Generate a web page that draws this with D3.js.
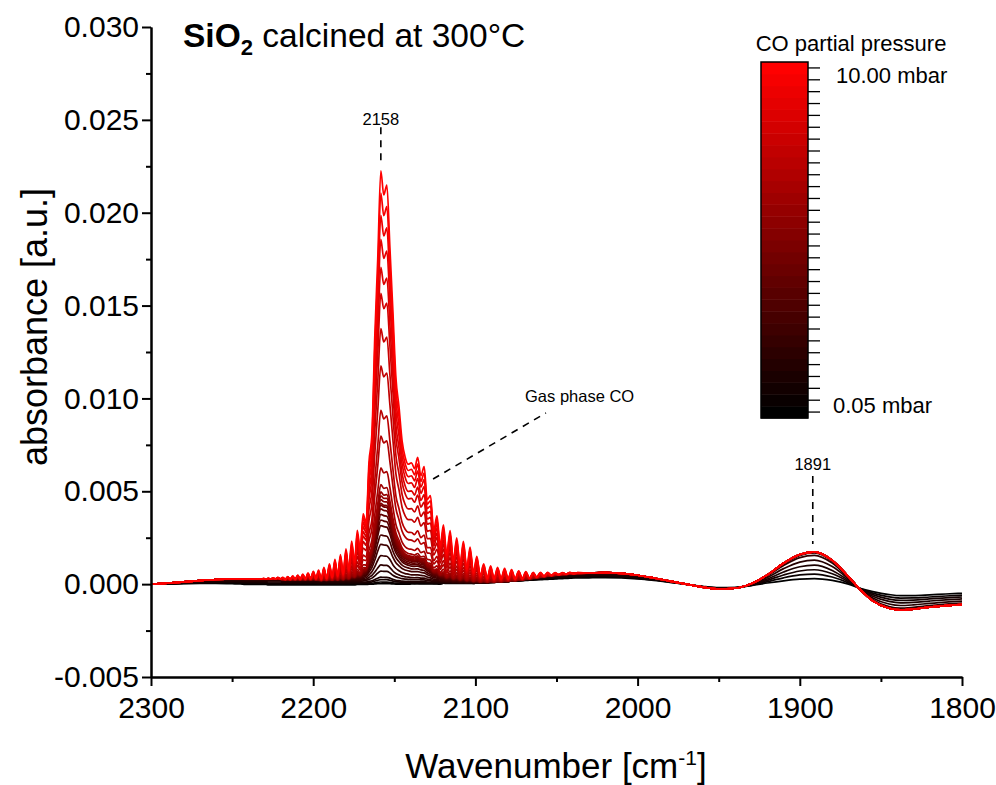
<!DOCTYPE html>
<html><head><meta charset="utf-8">
<script src="https://cdn.jsdelivr.net/npm/d3@7"></script>
<style>
body{margin:0;background:#fff;}
svg{display:block;font-family:"Liberation Sans",Arial,Helvetica,sans-serif;}
</style></head><body>
<svg id="chart" width="996" height="785"></svg>
<script>
// ---------------- DATA ----------------
// Wavenumber grid [cm-1], split by region (gas-phase lines: peak / valley points)
const wnHead = [2300, 2290, 2280, 2270, 2260, 2250, 2245];
const wnR = [2241.8, 2240.4, 2239.0, 2237.6, 2236.3, 2234.8, 2233.4, 2232.0, 2230.6, 2229.1,
  2227.7, 2226.2, 2224.7, 2223.3, 2221.8, 2220.3, 2218.8, 2217.2, 2215.7, 2214.2,
  2212.6, 2211.1, 2209.5, 2208.0, 2206.4, 2204.8, 2203.2, 2201.6, 2199.9, 2198.3,
  2196.7, 2195.0, 2193.4, 2191.7, 2190.0, 2188.3, 2186.6, 2184.9, 2183.2, 2181.5,
  2179.8, 2178.0, 2176.3, 2174.5, 2172.8, 2171.0, 2169.2, 2167.4, 2165.6, 2163.8,
  2162.0, 2160.2, 2158.3, 2156.5, 2154.6, 2152.7, 2150.9, 2149.0, 2147.1, 2145.2,
  2143.3, 2141.4];
const wnP = [2139.4, 2137.5, 2135.6, 2133.6, 2131.6, 2129.7, 2127.7, 2125.7, 2123.7, 2121.7,
  2119.7, 2117.7, 2115.6, 2113.6, 2111.5, 2109.5, 2107.4, 2105.3, 2103.3, 2101.2,
  2099.1, 2097.0, 2094.9, 2092.7, 2090.6, 2088.5, 2086.3, 2084.2, 2082.0, 2079.8,
  2077.7, 2075.5, 2073.3, 2071.1, 2068.9, 2066.6, 2064.4, 2062.2, 2059.9, 2057.7,
  2055.4, 2053.1, 2050.9, 2048.6, 2046.3, 2044.0, 2041.7, 2039.4, 2037.0];
const wnTail = [2030, 2020, 2010, 2000, 1990, 1980, 1970, 1960, 1950, 1940, 1930, 1920, 1910,
  1900, 1891, 1880, 1870, 1863, 1855, 1845, 1838, 1830, 1820, 1810, 1800];

// Gas-phase CO rotational lines at 10 mbar (absorbance, units of 1e-5)
const gasHead = [0, 0, 0, 0, 0, 0, 0];
const gasR = [0, 0, 0, 0, 1, 0, 2, 0, 3, 0,
  4, 1, 6, 1, 9, 1, 12, 2, 16, 2,
  20, 3, 25, 3, 30, 4, 37, 5, 45, 6,
  55, 7, 68, 9, 85, 11, 105, 14, 125, 16,
  145, 18, 155, 19, 160, 20, 165, 20, 160, 19,
  150, 17, 135, 15, 110, 12, 80, 8, 40, 4,
  0, 4];
const gasP = [40, 8, 80, 12, 110, 15, 135, 17, 150, 19,
  160, 20, 165, 20, 160, 20, 155, 18, 145, 16,
  110, 12, 85, 10, 78, 9, 70, 8, 64, 7,
  56, 6, 48, 5, 40, 4, 33, 4, 26, 3,
  20, 2, 15, 2, 11, 1, 8, 1, 5];
const gasTail = [0, 0, 0, 0, 0, 0, 0, 0, 0, 0, 0, 0, 0, 0, 0, 0, 0, 0, 0, 0, 0, 0, 0, 0, 0];

// Adsorbed CO band (2158) with physisorbed shoulder, normalised (units of 1e-3)
const adsHead = [0, 0, 0, 0, 0, 0, 0];
const adsR = [0, 0, 0, 0, 0, 0, 0, 0, 0, 0,
  0, 0, 0, 0, 0, 0, 0, 0, 0, 0,
  0, 0, 0, 0, 0, 0, 0, 0, 0, 0,
  0, 0, 1, 1, 2, 3, 4, 5, 7, 9,
  12, 18, 27, 38, 54, 70, 94, 140, 230, 370,
  560, 820, 990, 985, 965, 850, 660, 520, 430, 360,
  320, 300];
const adsP = [288, 288, 283, 268, 245, 205, 158, 125, 99, 85,
  73, 64, 56, 48, 40, 36, 33, 28, 23, 19,
  16, 12, 8, 7, 6, 5, 5, 4, 4, 3,
  3, 2, 2, 1, 1, 0, 0, 0, 0, 0,
  0, 0, 0, 0, 0, 0, 0, 0, 0];
const adsTail = [0, 0, 0, 0, 0, 0, 0, 0, 0, 0, 0, 0, 0, 0, 0, 0, 0, 0, 0, 0, 0, 0, 0, 0, 0];

// Broad background at 10 mbar (units of 1e-5)
const bgHighHead = [0, 5, 12, 19, 25, 28, 28];
const bgHighR = [27, 27, 27, 27, 27, 27, 27, 27, 27, 27,
  27, 27, 27, 27, 27, 27, 24, 24, 24, 24,
  24, 24, 24, 24, 24, 24, 24, 24, 24, 24,
  20, 20, 20, 20, 20, 20, 20, 20, 20, 20,
  20, 20, 20, 20, 16, 16, 16, 16, 16, 16,
  16, 16, 16, 16, 16, 16, 13, 13, 13, 13,
  13, 13];
const bgHighP = [10, 10, 10, 10, 10, 10, 10, 10, 10, 10,
  6, 6, 6, 6, 6, 6, 6, 6, 6, 6,
  6, 6, 7, 7, 8, 9, 10, 11, 12, 14,
  16, 18, 20, 22, 25, 28, 31, 34, 37, 40,
  43, 45, 47, 49, 51, 53, 55, 56, 57];
const bgHighTail = [60, 62, 58, 48, 33, 16, 0, -16, -26, -22, 2, 50, 113, 160, 174, 128, 40,
  -27, -90, -130, -139, -134, -124, -116, -110];

// Broad background at 0.05 mbar (units of 1e-5)
const bgLowHead = [0, 0, 2, 4, 4, 2, 1];
const bgLowR = [-1, -1, -1, -1, -1, -1, -1, -1, -1, -1,
  -4, -4, -4, -4, -4, -4, -4, -4, -4, -4,
  -4, -4, -4, -4, -4, -4, -4, -4, -4, -4,
  -4, -4, -4, -4, -4, -4, -4, -4, -4, -4,
  -4, -4, -4, -4, -2, -2, -2, -2, -2, -2,
  -2, -2, -2, -2, -2, -2, -2, -2, -2, -2,
  -2, -2];
const bgLowP = [0, 0, 0, 0, 0, 0, 0, 0, 0, 0,
  4, 4, 4, 4, 4, 4, 4, 4, 4, 4,
  6, 7, 8, 9, 10, 11, 12, 13, 14, 15,
  16, 17, 18, 19, 20, 21, 22, 23, 24, 25,
  26, 27, 28, 29, 30, 31, 32, 33, 33];
const bgLowTail = [34, 35, 33, 28, 20, 10, -1, -12, -19, -18, -8, 6, 18, 27, 30, 20, 0,
  -22, -40, -56, -62, -62, -58, -53, -49];

// Per-spectrum amounts, from 0.05 mbar (first) to 10.00 mbar (last)
const adsAmount = [5, 10, 20, 30, 59, 89, 138, 198, 248, 298, 328, 358, 386, 405, 414,
  433, 451, 469, 505, 589, 752, 882, 1110, 1299, 1480, 1612, 1753, 1874, 1984, 2096]; // 1e-5
const gasAmount = [0.002, 0.004, 0.006, 0.008, 0.01, 0.013, 0.016, 0.02, 0.025, 0.03,
  0.035, 0.04, 0.05, 0.06, 0.07, 0.08, 0.1, 0.12, 0.15, 0.2,
  0.27, 0.35, 0.45, 0.55, 0.63, 0.7, 0.78, 0.85, 0.93, 1.0];
const bgAmount = [0, 0.17, 0.33, 0.5, 0.69, 0.87, 0.96, 0.98, 0.99, 1,
  1, 1, 1, 1, 1, 1, 1, 1, 1, 1,
  1, 1, 1, 1, 1, 1, 1, 1, 1, 1];

// Axes / labels
const xMajor = [2300, 2200, 2100, 2000, 1900, 1800];
const xMajorLabels = ["2300", "2200", "2100", "2000", "1900", "1800"];
const xMinor = [2250, 2150, 2050, 1950, 1850];
const yMajor = [-0.005, 0.000, 0.005, 0.010, 0.015, 0.020, 0.025, 0.030];
const yMajorLabels = ["-0.005", "0.000", "0.005", "0.010", "0.015", "0.020", "0.025", "0.030"];
const yMinor = [-0.0025, 0.0025, 0.0075, 0.0125, 0.0175, 0.0225, 0.0275];
const colorbarLabels = ["0.05 mbar", "10.00 mbar"];

// ---------------- BUILD ----------------
const wavenumber = [].concat(wnHead, wnR, wnP, wnTail);
const gasProfile = [].concat(gasHead, gasR, gasP, gasTail).map(v => v * 1e-5);
const adsProfile = [].concat(adsHead, adsR, adsP, adsTail).map(v => v / 1000);
const bgHigh = [].concat(bgHighHead, bgHighR, bgHighP, bgHighTail).map(v => v * 1e-5);
const bgLow = [].concat(bgLowHead, bgLowR, bgLowP, bgLowTail).map(v => v * 1e-5);
[gasProfile, adsProfile, bgHigh, bgLow].forEach((a, j) => {
  if (a.length !== wavenumber.length) throw new Error("length mismatch " + j + ": " + a.length + " vs " + wavenumber.length);
});
const nSpec = adsAmount.length;
const spectra = adsAmount.map((amt, i) => wavenumber.map((wn, k) => ({
  wn,
  v: bgLow[k] + bgAmount[i] * (bgHigh[k] - bgLow[k]) + amt * 1e-5 * adsProfile[k] + gasAmount[i] * gasProfile[k]
})));

const svg = d3.select("#chart");
const x = d3.scaleLinear().domain([2300, 1800]).range([151, 962]);
const y = d3.scaleLinear().domain([-0.005, 0.030]).range([677, 27]);
const color = i => d3.interpolateRgb("#000000", "#ff0000")(i / (nSpec - 1));

// curves
const line = d3.line().x(d => x(d.wn)).y(d => y(d.v)).curve(d3.curveMonotoneX);
svg.append("g").selectAll("path").data(spectra).join("path")
  .attr("d", line).attr("fill", "none")
  .attr("stroke", (d, i) => color(i)).attr("stroke-width", 1.7)
  .attr("stroke-linejoin", "round");

// axes
const axisStyle = g => {
  g.attr("font-family", null);
  g.selectAll(".domain").attr("stroke", "#000").attr("stroke-width", 2);
  g.selectAll(".tick line").attr("stroke", "#000").attr("stroke-width", 2);
  g.selectAll(".tick text").attr("fill", "#000").style("font-size", "30px");
};
svg.append("g").attr("transform", "translate(151,0)")
  .call(d3.axisLeft(y).tickValues(yMinor).tickSize(5).tickSizeOuter(0).tickFormat(""))
  .call(axisStyle);
svg.append("g").attr("transform", "translate(151,0)")
  .call(d3.axisLeft(y).tickValues(yMajor).tickSize(9).tickSizeOuter(0).tickPadding(3)
    .tickFormat((d, i) => yMajorLabels[i]))
  .call(axisStyle);
svg.append("g").attr("transform", "translate(0,677)")
  .call(d3.axisBottom(x).tickValues(xMinor).tickSize(5).tickSizeOuter(0).tickFormat(""))
  .call(axisStyle);
svg.append("g").attr("transform", "translate(0,677)")
  .call(d3.axisBottom(x).tickValues(xMajor).tickSize(9).tickSizeOuter(0).tickPadding(11)
    .tickFormat((d, i) => xMajorLabels[i]))
  .call(axisStyle);

// axis titles
svg.append("text").attr("transform", "translate(47,327) rotate(-90)")
  .attr("text-anchor", "middle").style("font-size", "36px").text("absorbance [a.u.]");
const xt = svg.append("text").attr("x", 556).attr("y", 778).attr("text-anchor", "middle")
  .style("font-size", "35px");
xt.append("tspan").text("Wavenumber [cm");
xt.append("tspan").attr("dy", -13).style("font-size", "21px").text("-1");
xt.append("tspan").attr("dy", 13).text("]");

// title
const tt = svg.append("text").attr("x", 183).attr("y", 47).style("font-size", "33.5px");
tt.append("tspan").attr("font-weight", "bold").text("SiO");
tt.append("tspan").attr("font-weight", "bold").attr("dy", 8).style("font-size", "22px").text("2");
tt.append("tspan").attr("dy", -8).text(" calcined at 300\u00B0C");

// annotations
const ann = svg.append("g").attr("fill", "#000");
ann.append("line").attr("x1", x(2158.3)).attr("x2", x(2158.3)).attr("y1", y(0.0246)).attr("y2", y(0.0225))
  .attr("stroke", "#000").attr("stroke-width", 1.6).attr("stroke-dasharray", "7,6");
ann.append("text").attr("x", x(2158.3)).attr("y", y(0.02472)).attr("text-anchor", "middle")
  .style("font-size", "16.5px").text("2158");
ann.append("line").attr("x1", x(1892)).attr("x2", x(1892)).attr("y1", y(0.00582)).attr("y2", y(0.00216))
  .attr("stroke", "#000").attr("stroke-width", 1.6).attr("stroke-dasharray", "7,6");
ann.append("text").attr("x", x(1892)).attr("y", y(0.00615)).attr("text-anchor", "middle")
  .style("font-size", "16.5px").text("1891");
ann.append("line").attr("x1", x(2126.1)).attr("y1", y(0.00566)).attr("x2", x(2056.5)).attr("y2", y(0.00922))
  .attr("stroke", "#000").attr("stroke-width", 1.6).attr("stroke-dasharray", "7,6");
ann.append("text").attr("x", x(2069.4)).attr("y", y(0.00981))
  .style("font-size", "16.5px").text("Gas phase CO");

// colour bar
const cbX = 761, cbY = 62, cbW = 47, cbH = 356;
const band = d3.scaleBand().domain(d3.range(nSpec)).range([cbY + cbH, cbY]);
const cb = svg.append("g");
cb.selectAll("rect.b").data(d3.range(nSpec)).join("rect").attr("class", "b")
  .attr("x", cbX).attr("width", cbW)
  .attr("y", i => band(i)).attr("height", band.bandwidth() + 0.5)
  .attr("fill", i => color(i));
cb.append("rect").attr("x", cbX).attr("y", cbY).attr("width", cbW).attr("height", cbH)
  .attr("fill", "none").attr("stroke", "#000").attr("stroke-width", 1.5);
cb.selectAll("line").data(d3.range(nSpec)).join("line")
  .attr("x1", cbX + cbW).attr("x2", cbX + cbW + 12)
  .attr("y1", i => band(i) + band.bandwidth() / 2).attr("y2", i => band(i) + band.bandwidth() / 2)
  .attr("stroke", "#000").attr("stroke-width", 1.3);
cb.append("text").attr("x", 851).attr("y", 51).attr("text-anchor", "middle")
  .style("font-size", "22px").text("CO partial pressure");
cb.append("text").attr("x", 836).attr("y", 83).style("font-size", "22px").text(colorbarLabels[1]);
cb.append("text").attr("x", 833).attr("y", 413).style("font-size", "22px").text(colorbarLabels[0]);
</script></body></html>
